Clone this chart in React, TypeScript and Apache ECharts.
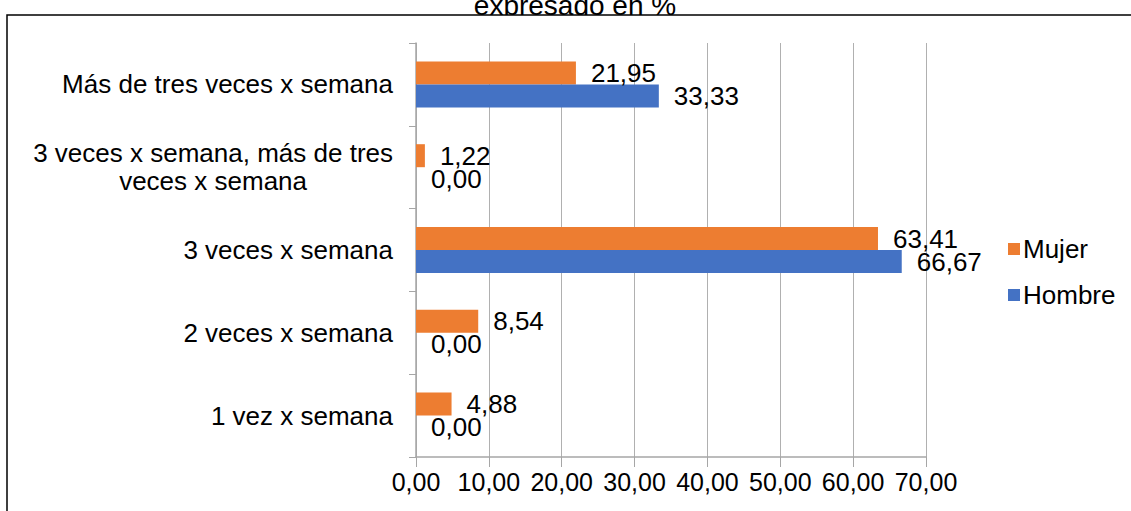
import React, { useEffect, useRef } from "react";
import * as echarts from "echarts";

const categories = [
  "1 vez x semana",
  "2 veces x semana",
  "3 veces x semana",
  "3 veces x semana, más de tres veces x semana",
  "Más de tres veces x semana",
];
const mujer = [4.88, 8.54, 63.41, 1.22, 21.95];
const hombre = [0.0, 0.0, 66.67, 0.0, 33.33];
const xTicks = { min: 0, max: 70, interval: 10 };
const titleText = "expresado en %";

const FONT = "'Liberation Sans', Arial, sans-serif";
const fmt = (v: number) => v.toFixed(2).replace(".", ",");

export default function App() {
  const ref = useRef<HTMLDivElement>(null);
  useEffect(() => {
    if (!ref.current) return;
    const chart = echarts.init(ref.current, undefined, { renderer: "svg" });
    const labelStyle = {
      show: true,
      position: "right" as const,
      distance: 15,
      fontSize: 26,
      color: "#000",
      fontFamily: FONT,
      formatter: (p: any) => fmt(p.value),
    };
    chart.setOption({
      animation: false,
      textStyle: { fontFamily: FONT },
      graphic: [
        {
          type: "text",
          z: 1,
          x: 575,
          y: 19,
          style: {
            text: titleText,
            fontSize: 28,
            fontFamily: FONT,
            fill: "#000",
            textAlign: "center",
            textVerticalAlign: "bottom",
          },
        },
        {
          type: "rect",
          z: 2,
          shape: { x: 0, y: 15, width: 1131, height: 25 },
          style: { fill: "#fff" },
        },
        {
          type: "rect",
          z: 3,
          shape: { x: 7, y: 15, width: 1200, height: 600 },
          style: { fill: "none", stroke: "#000", lineWidth: 1.5 },
        },
      ],
      legend: {
        orient: "vertical",
        left: 1003,
        top: 231,
        itemWidth: 12,
        itemHeight: 12,
        itemGap: 20,
        icon: "rect",
        textStyle: { fontSize: 26, color: "#000", fontFamily: FONT, lineHeight: 26, padding: [0, 0, 0, -2] },
        data: ["Mujer", "Hombre"],
      },
      grid: { left: 416, right: 205, top: 43, bottom: 54, containLabel: false },
      xAxis: {
        type: "value",
        min: xTicks.min,
        max: xTicks.max,
        interval: xTicks.interval,
        axisLine: { show: true, lineStyle: { color: "#a6a6a6", width: 1.5 } },
        axisTick: { show: true, length: 10, lineStyle: { color: "#a6a6a6" } },
        splitLine: { show: true, lineStyle: { color: "#b0b0b0", width: 1 } },
        axisLabel: {
          fontSize: 25,
          color: "#000",
          fontFamily: FONT,
          margin: 12,
          formatter: (v: number) => fmt(v),
        },
      },
      yAxis: {
        type: "category",
        data: categories,
        axisLine: { show: true, lineStyle: { color: "#a6a6a6", width: 1.5 } },
        axisTick: { show: true, length: 7, lineStyle: { color: "#a6a6a6" } },
        axisLabel: {
          fontSize: 26,
          color: "#000",
          fontFamily: FONT,
          margin: 23,
          formatter: (v: string) =>
            v === "3 veces x semana, más de tres veces x semana"
              ? "{c|3 veces x semana, más de tres}\n{c|veces x semana}"
              : v,
          rich: {
            c: { align: "center", fontSize: 26, fontFamily: FONT, color: "#000", lineHeight: 28 },
          },
        },
      },
      series: [
        {
          name: "Mujer",
          type: "bar",
          data: mujer,
          barWidth: 23,
          barGap: "0%",
          itemStyle: { color: "#ED7D31" },
          label: labelStyle,
        },
        {
          name: "Hombre",
          type: "bar",
          data: hombre,
          barWidth: 23,
          barGap: "0%",
          itemStyle: { color: "#4472C4" },
          label: labelStyle,
        },
      ],
    });
    return () => chart.dispose();
  }, []);
  return (
    <div
      ref={ref}
      style={{ position: "fixed", left: 0, top: 0, width: 1131, height: 511, background: "#fff" }}
    />
  );
}
